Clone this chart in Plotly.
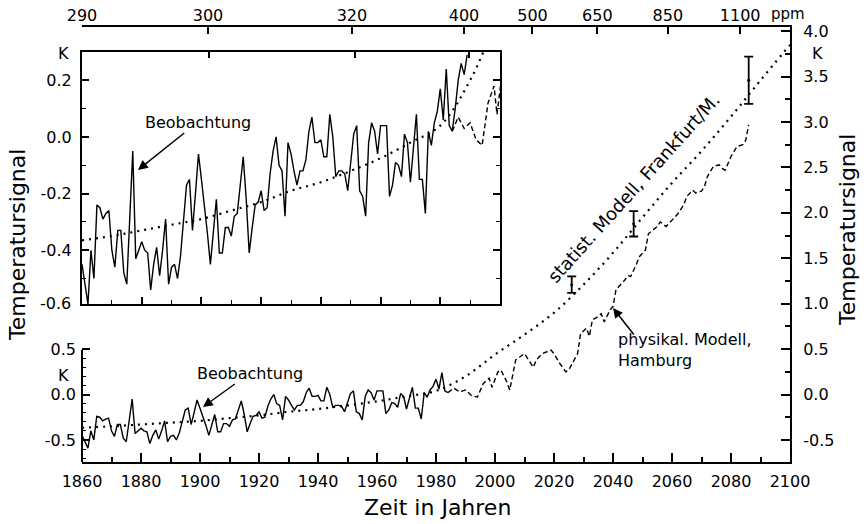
import plotly.graph_objects as go

W, H = 866, 524

# ---------------- data ----------------
obs_years = list(range(1860, 1990))
obs_vals = [
    -0.45, -0.52, -0.59, -0.40, -0.50, -0.24, -0.25, -0.29, -0.27, -0.26,   # 1860-69
    -0.40, -0.46, -0.33, -0.33, -0.48, -0.52, -0.30, -0.05, -0.43, -0.40,   # 1870-79
    -0.37, -0.40, -0.41, -0.54, -0.45, -0.39, -0.49, -0.40, -0.29, -0.52,   # 1880-89
    -0.46, -0.45, -0.50, -0.42, -0.30, -0.17, -0.15, -0.33, -0.20, -0.06,   # 1890-99
    -0.15, -0.24, -0.34, -0.45, -0.33, -0.22, -0.41, -0.41, -0.32, -0.32,   # 1900-09
    -0.35, -0.28, -0.27, -0.17, -0.07, -0.22, -0.41, -0.32, -0.24, -0.23,   # 1910-19
    -0.19, -0.26, -0.25, -0.13, -0.05, 0.00, -0.10, -0.12, -0.28, -0.02,    # 1920-29
    -0.06, -0.12, -0.17, -0.12, -0.12, -0.08, 0.02, 0.07, -0.02, -0.02,     # 1930-39
    -0.01, -0.07, -0.07, 0.08, 0.00, -0.14, -0.12, -0.12, -0.13, -0.19,     # 1940-49
    -0.08, 0.01, 0.04, -0.19, -0.21, -0.28, -0.02, 0.05, 0.02, -0.06,       # 1950-59
    0.04, 0.04, 0.04, -0.21, -0.17, -0.09, -0.10, -0.14, 0.01, -0.02,       # 1960-69
    -0.16, -0.04, 0.08, -0.15, -0.15, -0.27, 0.02, -0.03, 0.05, 0.09,       # 1970-79
    0.17, 0.06, 0.24, 0.04, 0.02, 0.10, 0.20, 0.26, 0.22, 0.29,             # 1980-89
]
main_obs_last_year = 1984

model_years = [1984, 1986, 1988, 1990, 1992, 1994, 1996, 1998, 1999, 2001,
               2002, 2004, 2005, 2006, 2007, 2010, 2011, 2013, 2014, 2016,
               2019, 2020, 2022, 2024, 2025, 2027, 2028, 2029, 2031, 2032,
               2033, 2035, 2036, 2037, 2038, 2039, 2040, 2041, 2042, 2044,
               2045, 2046, 2048, 2049, 2051, 2052, 2055, 2056, 2058, 2060,
               2062, 2064, 2065, 2067, 2068, 2070, 2071, 2072, 2074, 2076,
               2077, 2078, 2079, 2080, 2082, 2084, 2085, 2086]
model_vals = [0.02, 0.07, 0.03, 0.05, -0.01, -0.03, 0.12, 0.18, 0.08, 0.25,
              0.27, 0.14, 0.05, 0.23, 0.38, 0.45, 0.40, 0.30, 0.38, 0.45,
              0.49, 0.45, 0.34, 0.25, 0.27, 0.38, 0.45, 0.67, 0.73, 0.64,
              0.82, 0.86, 0.89, 0.80, 0.86, 0.93, 0.97, 1.15, 1.19, 1.26,
              1.31, 1.30, 1.44, 1.52, 1.59, 1.77, 1.85, 1.90, 1.85, 1.92,
              1.99, 2.09, 2.18, 2.25, 2.22, 2.24, 2.29, 2.40, 2.51, 2.53,
              2.49, 2.47, 2.55, 2.62, 2.73, 2.75, 2.80, 2.97]

stat_years = [1860, 1870, 1880, 1890, 1900, 1910, 1920, 1930, 1940, 1950, 1960,
              1970, 1980, 1990, 2000, 2010, 2020, 2030, 2040, 2050, 2060, 2070,
              2080, 2090, 2100]
stat_vals = [-0.365, -0.35, -0.33, -0.31, -0.29, -0.26, -0.23, -0.19, -0.16, -0.12,
             -0.075, -0.02, 0.04, 0.20, 0.44, 0.66, 0.90, 1.21, 1.56, 1.95, 2.33,
             2.68, 3.06, 3.46, 3.85]

err_years = [2026, 2047, 2086]
err_low = [1.12, 1.74, 3.20]
err_high = [1.30, 2.02, 3.72]

ppm_labels = ['290', '300', '320', '400', '500', '650', '850', '1100']
ppm_years = [1860, 1902.7, 1951.5, 1989.5, 2012.7, 2034.7, 2058.6, 2083.1]

year_major = list(range(1860, 2101, 20))
year_minor = list(range(1870, 2100, 20))
right_major = [-0.5, 0.0, 0.5, 1.0, 1.5, 2.0, 2.5, 3.0, 3.5, 4.0]
right_minor = [-0.75, -0.25, 0.25, 0.75, 1.25, 1.75, 2.25, 2.75, 3.25, 3.75]
left_major = [-0.5, 0.0, 0.5]
left_minor = [-0.7, -0.6, -0.4, -0.3, -0.2, -0.1, 0.1, 0.2, 0.3, 0.4]
inset_year_major = list(range(1880, 2000, 20))
inset_year_minor = list(range(1870, 2000, 20))
inset_major = [-0.4, -0.2, 0.0, 0.2]
inset_minor = [-0.5, -0.3, -0.1, 0.1]

assert len(obs_years) == len(obs_vals)
assert len(model_years) == len(model_vals)

# ---------------- helpers ----------------
def px(x):
    return x / W

def py(y):
    return 1 - y / H

FONT = 'DejaVu Sans'
BLACK = 'black'

def lab(vals):
    return [f'{v:.1f}' for v in vals]

main_n = obs_years.index(main_obs_last_year) + 1
err_mid = [(lo + hi) / 2 for lo, hi in zip(err_low, err_high)]
err_plus = [hi - m for hi, m in zip(err_high, err_mid)]

fig = go.Figure()

# ---- main plot traces ----
fig.add_trace(go.Scatter(x=stat_years, y=stat_vals, mode='lines', line_shape='spline',
                         line=dict(color=BLACK, width=2.2, dash='2px,5px'),
                         xaxis='x', yaxis='y', hoverinfo='skip'))
fig.add_trace(go.Scatter(x=model_years, y=model_vals, mode='lines',
                         line=dict(color=BLACK, width=1.4, dash='5px,3px'),
                         xaxis='x', yaxis='y', hoverinfo='skip'))
fig.add_trace(go.Scatter(x=obs_years[:main_n], y=obs_vals[:main_n], mode='lines',
                         line=dict(color=BLACK, width=1.4),
                         xaxis='x', yaxis='y', hoverinfo='skip'))
fig.add_trace(go.Scatter(x=err_years, y=err_mid, mode='markers',
                         marker=dict(color=BLACK, size=3),
                         error_y=dict(type='data', array=err_plus, symmetric=True,
                                      color=BLACK, thickness=1.8, width=4.5),
                         xaxis='x', yaxis='y', hoverinfo='skip'))

# ---- inset traces ----
fig.add_trace(go.Scatter(x=stat_years, y=stat_vals, mode='lines', line_shape='spline',
                         line=dict(color=BLACK, width=2.2, dash='2px,5px'),
                         xaxis='x3', yaxis='y3', hoverinfo='skip'))
fig.add_trace(go.Scatter(x=model_years, y=model_vals, mode='lines',
                         line=dict(color=BLACK, width=1.4, dash='5px,3px'),
                         xaxis='x3', yaxis='y3', hoverinfo='skip'))
fig.add_trace(go.Scatter(x=obs_years, y=obs_vals, mode='lines',
                         line=dict(color=BLACK, width=1.4),
                         xaxis='x3', yaxis='y3', hoverinfo='skip'))

# invisible carriers so that the overlaying axes (ppm axes, left K axis) are drawn
for xa, ya in (('x2', 'y'), ('x', 'y2'), ('x4', 'y3')):
    fig.add_trace(go.Scatter(x=[stat_years[0]], y=[stat_vals[0]], mode='markers',
                             marker=dict(size=1, opacity=0), xaxis=xa, yaxis=ya,
                             hoverinfo='skip'))

tickfont = dict(family=FONT, size=16, color=BLACK)
common = dict(showgrid=False, zeroline=False, linecolor=BLACK, tickcolor=BLACK,
              tickfont=tickfont, fixedrange=True, automargin=False)

main_x_dom = [px(82), px(790)]
main_y_dom = [py(462), py(26.7)]
inset_x_dom = [px(82), px(500)]
inset_y_dom = [py(304), py(52)]

fig.update_layout(
    width=W, height=H, autosize=False,
    margin=dict(l=0, r=0, t=0, b=0, pad=0, autoexpand=False),
    paper_bgcolor='white', plot_bgcolor='white',
    showlegend=False,
    font=dict(family=FONT, color=BLACK),
    xaxis=dict(domain=main_x_dom, range=[1860, 2100], anchor='y',
               tickmode='array', tickvals=year_major, ticktext=[str(v) for v in year_major],
               ticks='inside', ticklen=9, tickwidth=1.6,
               minor=dict(tickmode='array', tickvals=year_minor, ticks='inside',
                          ticklen=5, tickwidth=1.6, tickcolor=BLACK),
               showline=True, linewidth=2, ticklabelstandoff=4, **common),
    xaxis2=dict(overlaying='x', side='top', anchor='y', range=[1860, 2100],
                tickmode='array', tickvals=ppm_years, ticktext=ppm_labels,
                ticks='inside', ticklen=7, tickwidth=1.6,
                showline=True, linewidth=2, ticklabelstandoff=-3, **common),
    yaxis=dict(domain=main_y_dom, range=[-0.743, 4.05], anchor='x', side='right',
               tickmode='array', tickvals=right_major, ticktext=lab(right_major),
               ticks='inside', ticklen=9, tickwidth=1.6,
               minor=dict(tickmode='array', tickvals=right_minor, ticks='inside',
                          ticklen=5, tickwidth=1.6, tickcolor=BLACK),
               showline=True, linewidth=2, ticklabelstandoff=8, **common),
    yaxis2=dict(overlaying='y', anchor='x', side='left', range=[-0.743, 4.05],
                tickmode='array', tickvals=left_major, ticktext=lab(left_major),
                ticks='inside', ticklen=8, tickwidth=1.6,
                minor=dict(tickmode='array', tickvals=left_minor, ticks='inside',
                           ticklen=4, tickwidth=1.4, tickcolor=BLACK),
                showline=False, ticklabelstandoff=5, **common),
    xaxis3=dict(domain=inset_x_dom, range=[1860, 2000], anchor='y3',
                tickmode='array', tickvals=inset_year_major, showticklabels=False,
                ticks='inside', ticklen=7, tickwidth=1.6,
                minor=dict(tickmode='array', tickvals=inset_year_minor, ticks='inside',
                           ticklen=4, tickwidth=1.4, tickcolor=BLACK),
                showline=True, linewidth=2, mirror=True, **common),
    xaxis4=dict(overlaying='x3', side='top', anchor='y3', range=[1860, 2000],
                tickmode='array', tickvals=ppm_years, showticklabels=False,
                ticks='inside', ticklen=6, tickwidth=1.6, showline=False, **common),
    yaxis3=dict(domain=inset_y_dom, range=[-0.59, 0.30], anchor='x3',
                tickmode='array', tickvals=inset_major, ticktext=lab(inset_major),
                ticks='inside', ticklen=7, tickwidth=1.6,
                minor=dict(tickmode='array', tickvals=inset_minor, ticks='inside',
                           ticklen=4, tickwidth=1.4, tickcolor=BLACK),
                showline=True, linewidth=2, mirror='ticks', ticklabelstandoff=5, **common),
)

# partial left spine of main frame (lower part only)
fig.add_shape(type='line', xref='paper', yref='paper',
              x0=px(82), x1=px(82), y0=py(462), y1=py(350),
              line=dict(color=BLACK, width=2))

ann = []
def text(x, y, s, size=16, xanchor='center', **kw):
    d = dict(x=px(x), y=py(y), xref='paper', yref='paper', text=s, showarrow=False,
             xanchor=xanchor, yanchor='middle',
             font=dict(family=FONT, size=size, color=BLACK))
    d.update(kw)
    ann.append(d)

text(788, 14, 'ppm', 15)
text(63, 53, 'K', 16)
text(63, 375, 'K', 16)
text(817, 53, 'K', 16)
text(73, 303, '-0.6', 16, xanchor='right')
text(437, 507, 'Zeit in Jahren', 22)
text(17, 245, 'Temperatursignal', 22, textangle=-90)
text(847, 230, 'Temperatursignal', 22, textangle=-90)
text(633, 188, 'statist. Modell, Frankfurt/M.', 18, textangle=-48)
text(616, 350, 'physikal. Modell,<br>Hamburg', 16, xanchor='left', align='left')

arrow_common = dict(xref='paper', yref='paper', showarrow=True, arrowhead=2,
                    arrowsize=1.3, arrowwidth=1.5, arrowcolor=BLACK,
                    font=dict(family=FONT, size=16, color=BLACK))
ann.append(dict(x=px(138), y=py(170), text='Beobachtung', ax=60, ay=-48, **arrow_common))
ann.append(dict(x=px(203), y=py(407), text='Beobachtung', ax=47, ay=-34, **arrow_common))
ann.append(dict(x=px(613), y=py(308), text='', ax=22, ay=28, **arrow_common))

fig.update_layout(annotations=ann)

fig.write_html('out.html')
